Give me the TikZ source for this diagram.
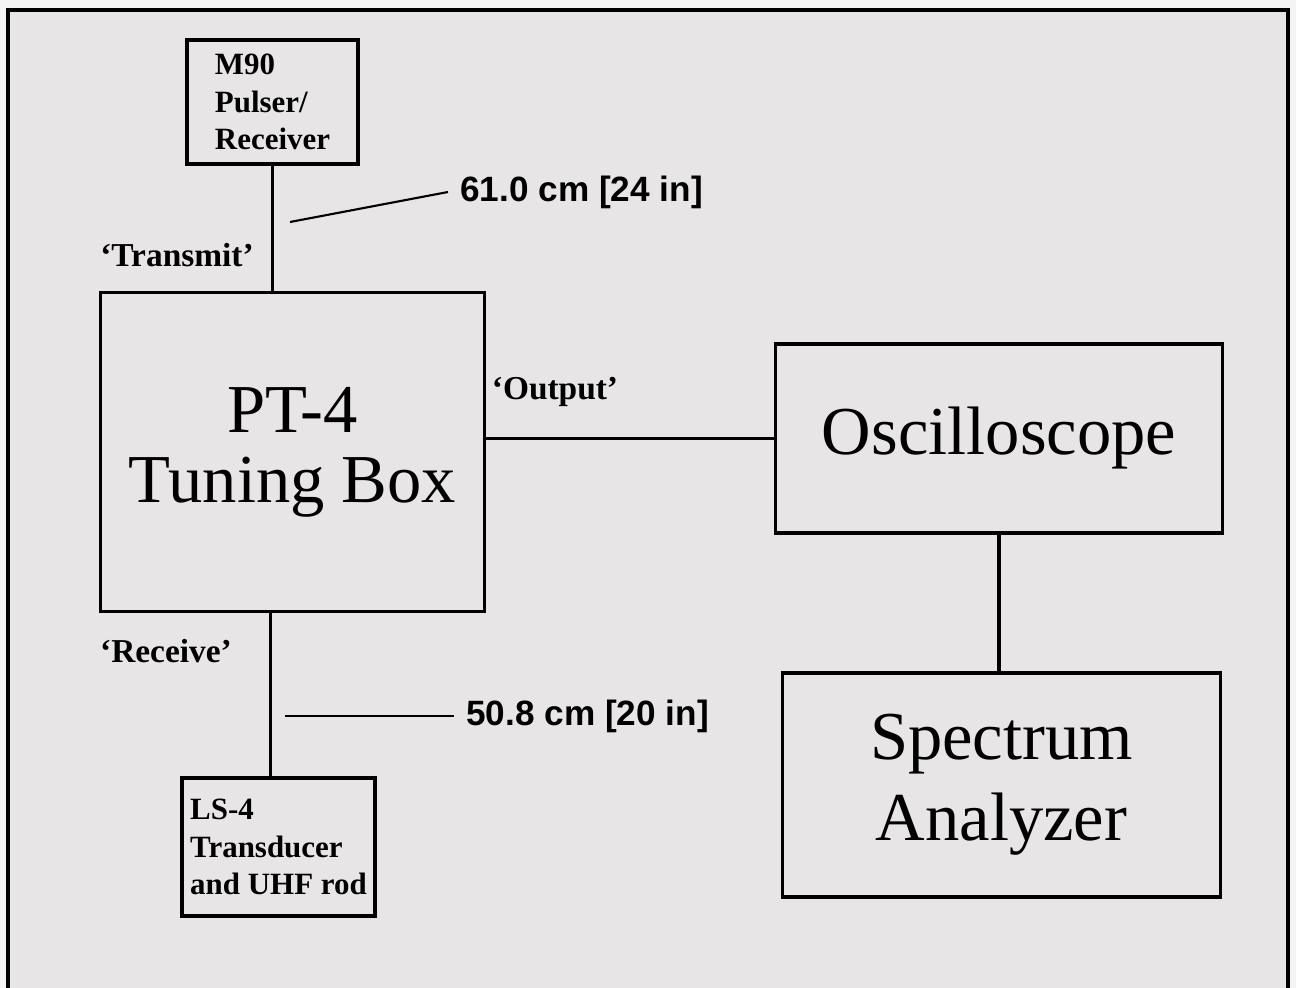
\documentclass[tikz,border=0pt]{standalone}
\usepackage{xcolor}
\usepackage{fontspec}
\setmainfont{Liberation Serif}
\newfontfamily\dimfont{Liberation Sans}
\usepackage{tikz}
\definecolor{panelcolor}{HTML}{E7E5E5}
\definecolor{papercolor}{HTML}{F4F4F4}
\tikzset{
  unitbox/.style={draw, rectangle, line width=0.9pt, inner sep=2pt, align=left, font=\bfseries\fontsize{8.8}{10.6}\selectfont},
  mainbox/.style={draw, rectangle, line width=0.9pt, align=center, font=\fontsize{19.5}{20}\selectfont},
  porttag/.style={font=\bfseries\fontsize{9.5}{11}\selectfont},
  dimtag/.style={anchor=west, font=\dimfont\bfseries\fontsize{10}{12}\selectfont},
  cable/.style={line width=0.9pt},
  leader/.style={line width=0.6pt},
}

\begin{document}
\begin{tikzpicture}[x=0.01cm, y=-0.01cm]%
\useasboundingbox (0,0) rectangle (1296,988);%
\fill[papercolor] (0,0) rectangle (1296,988);%
\fill[panelcolor] (8,10) rectangle (1288,988);%
\draw[line width=0.9pt] (8,988) -- (8,10) -- (1288,10) -- (1288,988);%
% instruments
\node[unitbox, minimum width=1.71cm, minimum height=1.24cm] (m90) at (272.5, 102) {M90\\Pulser/\\Receiver};%
\node[mainbox, minimum width=3.83cm, minimum height=3.18cm] (pt4) at (292.5, 452) {PT-4\\Tuning Box};%
\node[unitbox, minimum width=1.93cm, minimum height=1.38cm] (ls4) at (278.5, 847) {LS-4\\Transducer\\and UHF rod};%
\node[mainbox, minimum width=4.46cm, minimum height=1.89cm] (osc) at (999, 438.5) {Oscilloscope};%
\node[mainbox, minimum width=4.37cm, minimum height=2.24cm, font=\fontsize{19.5}{23}\selectfont] (spec) at (1001.5, 785) {Spectrum\\Analyzer};%
% cables
\draw[cable] (m90.south) -- (m90.south |- pt4.north);%
\draw[cable] ([xshift=-0.08cm]ls4.north) -- ([xshift=-0.08cm]ls4.north |- pt4.south);%
\draw[cable] (osc.west) -- (osc.west -| pt4.east);%
\draw[cable] (osc.south) -- (osc.south |- spec.north);%
% port names
\node[porttag] (tx) at (177, 255) {`Transmit'};%
\node[porttag] (rx) at (166, 651) {`Receive'};%
\node[porttag] (out) at (555, 392) {`Output'};%
% cable lengths
\node[dimtag] (len1) at (448, 192) {61.0 cm [24 in]};%
\node[dimtag] (len2) at (454, 716) {50.8 cm [20 in]};%
\coordinate (lead1) at (290, 222);%
\coordinate (lead2) at (285, 716);%
\draw[leader] (lead1) -- (len1.west);%
\draw[leader] (lead2) -- (len2.west);%
\end{tikzpicture}
\end{document}
